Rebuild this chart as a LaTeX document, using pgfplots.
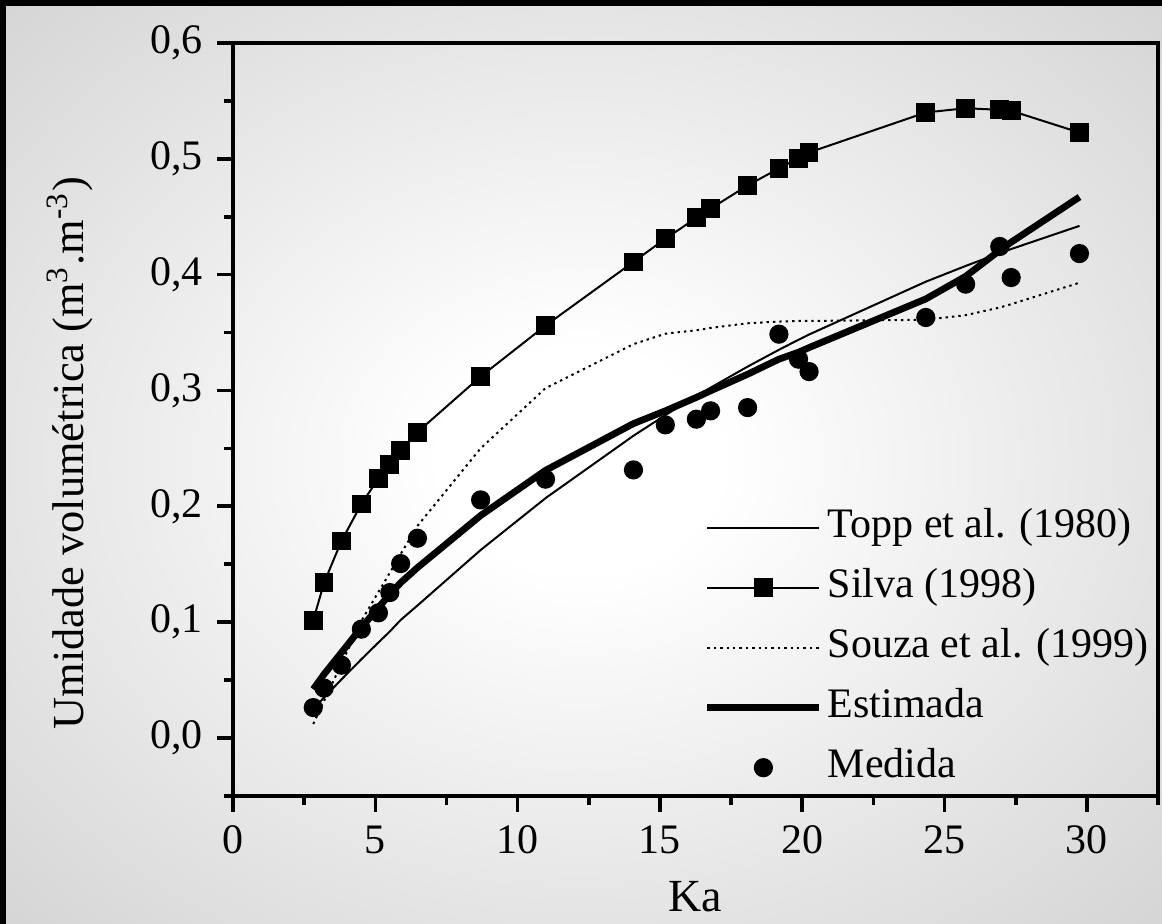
\documentclass[border=0pt]{standalone}
\usepackage{pgfplots}
\pgfplotsset{compat=1.18}
\usepackage{pgfplotstable}
\usepackage{fontspec}
\setmainfont{Liberation Serif}
\definecolor{edgegray}{RGB}{192,192,192}
\pgfdeclareradialshading{bgshade}{\pgfpoint{0bp}{0bp}}{color(0bp)=(white); color(6bp)=(white); color(50bp)=(edgegray); color(75bp)=(edgegray)}

\pgfplotstableread{
ka     silva   medida  topp     souza   est
2.82   0.1016  0.0262  0.0251   0.012   0.042
3.20   0.134   0.043   0.0349   0.032   0.055
3.81   0.170   0.0628  0.0505   0.064   0.0737
4.51   0.202   0.0939  0.0679   0.101   0.0953
5.11   0.224   0.108   0.0824   0.126   0.1125
5.51   0.236   0.1255  0.0919   0.1426  0.124
5.89   0.248   0.1505  0.1018   0.1587  0.134
6.48   0.264   0.1724  0.1143   0.183   0.147
8.70   0.312   0.2055  0.1622   0.250   0.192
10.98  0.356   0.2234  0.2070   0.302   0.231
14.07  0.411   0.2314  0.2609   0.340   0.2714
15.19  0.431   0.2703  0.2787   0.349   0.2824
16.28  0.449   0.2752  0.2952   0.352   0.294
16.78  0.457   0.2824  0.3024   0.354   0.2997
18.08  0.477   0.2852  0.3206   0.358   0.314
19.18  0.4917  0.3486  0.3351   0.3595  0.327
19.87  0.5006  0.327   0.3438   0.360   0.333
20.24  0.5055  0.3163  0.3483   0.360   0.337
24.34  0.540   0.363   0.3939   0.361   0.379
25.74  0.5437  0.3918  0.4075   0.365   0.3985
26.94  0.5423  0.4243  0.4186   0.3716  0.421
27.34  0.5415  0.3975  0.4221   0.3745  0.428
29.74  0.5227  0.4182  0.4421   0.393   0.467
}\datatable

\begin{document}%
\begin{tikzpicture}%
\fill[edgegray] (-20pt,-20pt) rectangle (310pt,250pt);
\shade[shading=bgshade] (0,0) rectangle (290.5pt,230.75pt);
\fill[black] (-20pt,229.25pt) rectangle (310pt,250pt);
\fill[black] (-20pt,-20pt) rectangle (1.5pt,250pt);
\begin{axis}[
  at={(58.25pt,31.8pt)}, anchor=south west,
  scale only axis, width=231.25pt, height=188.2pt,
  xmin=0, xmax=32.5, ymin=-0.05, ymax=0.6,
  xtick={0,5,10,15,20,25,30},
  ytick={0,0.1,0.2,0.3,0.4,0.5,0.6},
  minor xtick={2.5,7.5,12.5,17.5,22.5,27.5,32.5},
  minor ytick={-0.05,0.05,0.15,0.25,0.35,0.45,0.55},
  tick align=outside, tick pos=left,
  major tick length=4pt, minor tick length=2.2pt,
  axis line style={line width=0.9pt},
  every tick/.style={black, line width=0.9pt},
  /pgf/number format/assume math mode=true,
  tick label style={font=\fontsize{10.5}{12}\selectfont},
  yticklabel style={/pgf/number format/.cd, fixed, fixed zerofill, precision=1, use comma},
  xlabel={Ka},
  xlabel style={at={(axis description cs:0.5,-0.154)}, anchor=base, font=\fontsize{11.5}{13}\selectfont},
  ylabel={Umidade volumétrica (m\textsuperscript{3}.m\textsuperscript{-3})},
  ylabel style={at={(axis description cs:-0.162,0.455)}, anchor=base, font=\fontsize{11.1}{13}\selectfont},
  legend image code/.code={\draw[mark repeat=2,mark phase=2,#1] plot coordinates {(0pt,0pt) (14pt,0pt) (28pt,0pt)};},
  legend style={at={(axis cs:16.52,0.2038)}, anchor=north west, draw=none, fill=none,
    inner xsep=0pt, inner ysep=0pt, row sep=2.5pt, column sep=0pt,
    font=\fontsize{10.5}{12}\selectfont,
    nodes={inner sep=1.25pt, text height=0.75em, text depth=0.25em}},
  legend cell align=left,
]
\addplot[black, line width=0.5pt] table[x=ka, y=topp] {\datatable};
\addlegendentry{Topp et al. (1980)}
\addplot[black, line width=0.5pt, mark=square*, mark size=2.1pt, mark options={solid, fill=black}] table[x=ka, y=silva] {\datatable};
\addlegendentry{Silva (1998)}
\addplot[black, line width=0.5pt, dash pattern=on 0.6pt off 1pt] table[x=ka, y=souza] {\datatable};
\addlegendentry{Souza et al. (1999)}
\addplot[black, line width=1.7pt] table[x=ka, y=est] {\datatable};
\addlegendentry{Estimada}
\addplot[only marks, mark=*, mark size=2.2pt, black, mark options={fill=black}] table[x=ka, y=medida] {\datatable};
\addlegendentry{Medida}
\end{axis}
\pgfresetboundingbox
\path[use as bounding box] (0,0) rectangle (290.5pt,230.75pt);
\end{tikzpicture}%
\end{document}
